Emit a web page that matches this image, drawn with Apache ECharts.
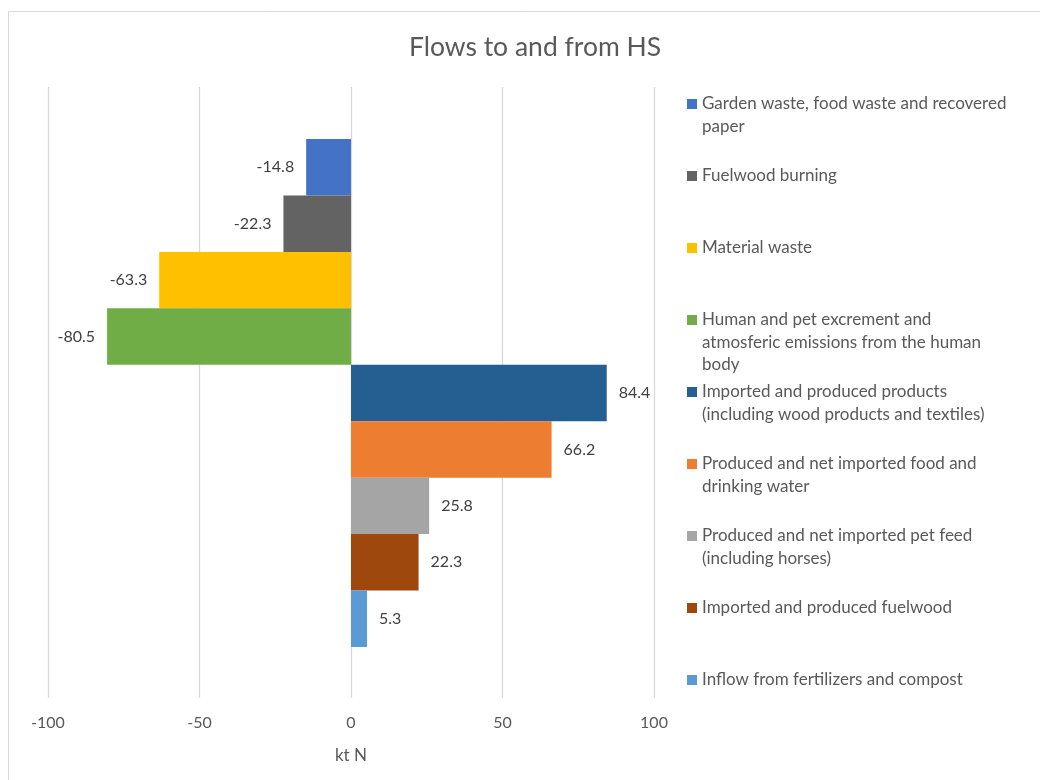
<!DOCTYPE html>
<html>
<head>
<meta charset="utf-8">
<title>Flows to and from HS</title>
<script src="https://cdn.jsdelivr.net/npm/echarts@6/dist/echarts.min.js"></script>
<style>
  html, body { margin: 0; padding: 0; background: #fff; }
  #main { width: 1040px; height: 780px; }
</style>
</head>
<body>
<div id="main"></div>
<script>
var names = [
  'Garden waste, food waste and recovered\npaper',
  'Fuelwood burning',
  'Material waste',
  'Human and pet excrement and\natmosferic emissions from the human\nbody',
  'Imported and produced products\n(including wood products and textiles)',
  'Produced and net imported food and\ndrinking water',
  'Produced and net imported pet feed\n(including horses)',
  'Imported and produced fuelwood',
  'Inflow from fertilizers and compost'
];
var values = [-14.8, -22.3, -63.3, -80.5, 84.4, 66.2, 25.8, 22.3, 5.3];
var colors = ['#4472C4', '#636363', '#FFC000', '#70AD47', '#255E91', '#ED7D31', '#A5A5A5', '#9E480E', '#5B9BD5'];
var xMin = -100, xMax = 100, xStep = 50;

(function(){
  var chart = echarts.init(document.getElementById('main'));
  var font = 'Lato, "Open Sans", sans-serif';
  var lineH = 22.5;

  var series = names.map(function(n, i){
    return {
      name: n,
      type: 'bar',
      stack: 'all',
      xAxisIndex: 1,
      yAxisIndex: 1,
      barCategoryGap: '0%',
      itemStyle: { color: colors[i] },
      label: {
        show: true,
        position: values[i] < 0 ? 'left' : 'right',
        distance: 12,
        color: '#404040',
        fontSize: 16,
        fontFamily: font
      },
      data: values.map(function(v, j){ return j === i ? v : '-'; })
    };
  });

  // one legend per entry so the markers sit 72px apart and line up with the first line
  var legends = names.map(function(n, i){
    var lines = n.split('\n').length;
    var h = 10 + (lines - 1) * lineH;
    return {
      data: [n],
      orient: 'vertical',
      left: 687,
      top: 104 + i * 72 - lineH / 2,
      padding: 0,
      itemWidth: 10,
      itemHeight: h,
      icon: 'path://M0,0L10,0L10,10L0,10ZM0,' + h,
      selectedMode: false,
      textStyle: { color: '#595959', fontSize: 17, fontFamily: font, lineHeight: lineH }
    };
  });

  var option = {
    animation: false,
    title: {
      text: 'Flows to and from HS',
      left: 530,
      top: 29,
      textAlign: 'center',
      textStyle: { color: '#595959', fontSize: 26.5, fontWeight: 'normal', fontFamily: font }
    },
    legend: legends,
    grid: [
      { left: 48, right: 386, top: 87, bottom: 82 },
      { left: 48, right: 386, top: 139, bottom: 133 }
    ],
    xAxis: [
      {
        type: 'value', gridIndex: 0,
        min: xMin, max: xMax, interval: xStep,
        name: 'kt N', nameLocation: 'middle', nameGap: 49,
        nameTextStyle: { color: '#595959', fontSize: 17, fontFamily: font },
        axisLine: { show: false },
        axisTick: { show: false },
        axisLabel: { color: '#595959', fontSize: 16, fontFamily: font, margin: 17 },
        splitLine: { show: true, lineStyle: { color: '#d9d9d9', width: 1.3 } }
      },
      {
        type: 'value', gridIndex: 1,
        min: xMin, max: xMax, interval: xStep,
        show: false
      }
    ],
    yAxis: [
      { type: 'value', gridIndex: 0, show: false },
      {
        type: 'category', gridIndex: 1,
        inverse: true,
        data: names,
        show: false
      }
    ],
    graphic: [{
      type: 'rect',
      shape: { x: 8.5, y: 11.5, width: 1100, height: 900 },
      style: { fill: 'none', stroke: '#d9d9d9', lineWidth: 1 },
      silent: true
    }],
    series: series
  };

  chart.setOption(option);
})()
</script>
</body>
</html>
